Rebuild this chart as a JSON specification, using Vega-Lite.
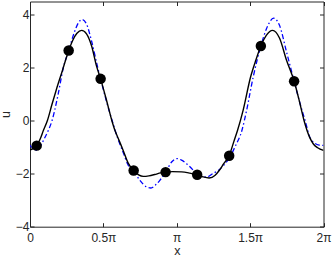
{
  "$schema": "https://vega.github.io/schema/vega-lite/v6.json",
  "autosize": "none",
  "width": 293.5,
  "height": 225.2,
  "padding": {"left": 30, "top": 1.5, "right": 8.5, "bottom": 34.3},
  "background": "white",
  "config": {
    "view": {"stroke": "#262626", "strokeWidth": 1},
    "font": "Liberation Sans",
    "axis": {
      "grid": false,
      "domain": false,
      "labelFont": "Liberation Sans",
      "labelFontSize": 12,
      "labelColor": "#262626",
      "tickColor": "#262626",
      "tickSize": -4,
      "tickWidth": 1,
      "titleFont": "Liberation Sans",
      "titleFontSize": 12.5,
      "titleFontWeight": "normal",
      "titleColor": "#262626"
    }
  },
  "datasets": {
    "black": [
      {"x": 0, "u": -1.10}, {"x": 0.063, "u": -1.05}, {"x": 0.145, "u": -0.94}, {"x": 0.220, "u": -0.68},
      {"x": 0.286, "u": -0.37}, {"x": 0.371, "u": 0.0}, {"x": 0.471, "u": 0.62}, {"x": 0.565, "u": 1.18},
      {"x": 0.691, "u": 1.88}, {"x": 0.829, "u": 2.65}, {"x": 0.911, "u": 3.02}, {"x": 1.005, "u": 3.30},
      {"x": 1.106, "u": 3.41}, {"x": 1.210, "u": 3.28}, {"x": 1.319, "u": 2.82}, {"x": 1.426, "u": 2.05},
      {"x": 1.511, "u": 1.58}, {"x": 1.634, "u": 0.80}, {"x": 1.753, "u": 0.0}, {"x": 1.819, "u": -0.37},
      {"x": 1.885, "u": -0.65}, {"x": 1.995, "u": -1.12}, {"x": 2.102, "u": -1.60}, {"x": 2.218, "u": -1.88},
      {"x": 2.325, "u": -2.04}, {"x": 2.425, "u": -2.10}, {"x": 2.545, "u": -2.08}, {"x": 2.670, "u": -2.03},
      {"x": 2.796, "u": -1.97}, {"x": 2.903, "u": -1.94}, {"x": 3.047, "u": -1.92}, {"x": 3.245, "u": -1.93},
      {"x": 3.424, "u": -1.98}, {"x": 3.578, "u": -2.04}, {"x": 3.707, "u": -2.12}, {"x": 3.836, "u": -2.16},
      {"x": 3.958, "u": -2.07}, {"x": 4.050, "u": -1.88}, {"x": 4.147, "u": -1.62}, {"x": 4.263, "u": -1.32},
      {"x": 4.367, "u": -0.77}, {"x": 4.442, "u": -0.37}, {"x": 4.562, "u": 0.39}, {"x": 4.722, "u": 1.65},
      {"x": 4.838, "u": 2.30}, {"x": 4.942, "u": 2.82}, {"x": 5.058, "u": 3.22}, {"x": 5.193, "u": 3.41},
      {"x": 5.341, "u": 3.12}, {"x": 5.492, "u": 2.28}, {"x": 5.655, "u": 1.49}, {"x": 5.765, "u": 0.75},
      {"x": 5.868, "u": 0.0}, {"x": 5.985, "u": -0.62}, {"x": 6.063, "u": -0.87}, {"x": 6.158, "u": -1.02},
      {"x": 6.283, "u": -1.12}
    ],
    "blue": [
      {"x": 0, "u": -0.93}, {"x": 0.063, "u": -1.05}, {"x": 0.126, "u": -1.12}, {"x": 0.204, "u": -1.00},
      {"x": 0.305, "u": -0.68}, {"x": 0.393, "u": -0.36}, {"x": 0.471, "u": 0.0}, {"x": 0.597, "u": 0.95},
      {"x": 0.713, "u": 2.0}, {"x": 0.829, "u": 2.65}, {"x": 0.942, "u": 3.3}, {"x": 1.037, "u": 3.7},
      {"x": 1.118, "u": 3.82}, {"x": 1.210, "u": 3.65}, {"x": 1.319, "u": 3.0}, {"x": 1.448, "u": 2.02},
      {"x": 1.511, "u": 1.58}, {"x": 1.634, "u": 0.75}, {"x": 1.759, "u": 0.0}, {"x": 1.885, "u": -0.7},
      {"x": 1.995, "u": -1.2}, {"x": 2.102, "u": -1.68}, {"x": 2.218, "u": -1.9}, {"x": 2.353, "u": -2.25},
      {"x": 2.498, "u": -2.5}, {"x": 2.589, "u": -2.54}, {"x": 2.702, "u": -2.4}, {"x": 2.780, "u": -2.25},
      {"x": 2.903, "u": -1.94}, {"x": 3.032, "u": -1.56}, {"x": 3.142, "u": -1.43}, {"x": 3.245, "u": -1.49},
      {"x": 3.352, "u": -1.62}, {"x": 3.531, "u": -1.94}, {"x": 3.578, "u": -2.03}, {"x": 3.676, "u": -2.1},
      {"x": 3.779, "u": -2.13}, {"x": 3.911, "u": -2.0}, {"x": 4.050, "u": -1.85}, {"x": 4.178, "u": -1.62},
      {"x": 4.263, "u": -1.42}, {"x": 4.398, "u": -0.95}, {"x": 4.536, "u": -0.37}, {"x": 4.637, "u": 0.39},
      {"x": 4.778, "u": 1.65}, {"x": 4.942, "u": 2.82}, {"x": 5.058, "u": 3.45}, {"x": 5.215, "u": 3.87},
      {"x": 5.341, "u": 3.6}, {"x": 5.498, "u": 2.55}, {"x": 5.655, "u": 1.49}, {"x": 5.781, "u": 0.65},
      {"x": 5.890, "u": 0.0}, {"x": 5.985, "u": -0.6}, {"x": 6.095, "u": -0.85}, {"x": 6.189, "u": -0.92},
      {"x": 6.283, "u": -0.93}
    ],
    "pts": [
      {"x": 0.143, "u": -0.94}, {"x": 0.828, "u": 2.65}, {"x": 1.512, "u": 1.58},
      {"x": 2.219, "u": -1.88}, {"x": 2.903, "u": -1.94}, {"x": 3.579, "u": -2.04},
      {"x": 4.264, "u": -1.32}, {"x": 4.942, "u": 2.82}, {"x": 5.654, "u": 1.49}
    ]
  },
  "layer": [
    {
      "data": {"name": "blue"},
      "mark": {"type": "line", "color": "#0000ff", "strokeWidth": 1.3, "strokeDash": [5, 2.5, 1.5, 2.5], "interpolate": "monotone", "clip": true},
      "encoding": {
        "x": {"field": "x", "type": "quantitative", "scale": {"domain": [0, 6.2832], "nice": false, "zero": false},
          "axis": {"orient": "bottom", "title": "x", "values": [0, 1.5708, 3.1416, 4.7124, 6.2832],
            "labelExpr": "datum.value < 0.5 ? '0' : datum.value < 2 ? '0.5π' : datum.value < 4 ? 'π' : datum.value < 5.5 ? '1.5π' : '2π'",
            "labelPadding": 10, "titlePadding": 1, "labelFlush": false}},
        "y": {"field": "u", "type": "quantitative", "scale": {"domain": [-4, 4.5], "nice": false, "zero": false},
          "axis": {"orient": "left", "title": "u", "values": [-4, -2, 0, 2, 4], "labelPadding": 5, "titlePadding": 3, "labelFlush": false}}
      }
    },
    {
      "data": {"name": "black"},
      "mark": {"type": "line", "color": "black", "strokeWidth": 1.4, "interpolate": "monotone", "clip": true},
      "encoding": {
        "x": {"field": "x", "type": "quantitative", "axis": null},
        "y": {"field": "u", "type": "quantitative", "axis": null}
      }
    },
    {
      "data": {"name": "pts"},
      "mark": {"type": "point", "filled": true, "color": "black", "opacity": 1, "size": 110},
      "encoding": {
        "x": {"field": "x", "type": "quantitative", "axis": null},
        "y": {"field": "u", "type": "quantitative", "axis": null}
      }
    },
    {
      "data": {"name": "pts"},
      "mark": {"type": "point", "opacity": 0},
      "encoding": {
        "x": {"field": "x", "type": "quantitative",
          "axis": {"orient": "top", "title": null, "labels": false, "values": [0, 1.5708, 3.1416, 4.7124, 6.2832]}},
        "y": {"field": "u", "type": "quantitative",
          "axis": {"orient": "right", "title": null, "labels": false, "values": [-4, -2, 0, 2, 4]}}
      }
    }
  ],
  "resolve": {"axis": {"x": "independent", "y": "independent"}}
}
